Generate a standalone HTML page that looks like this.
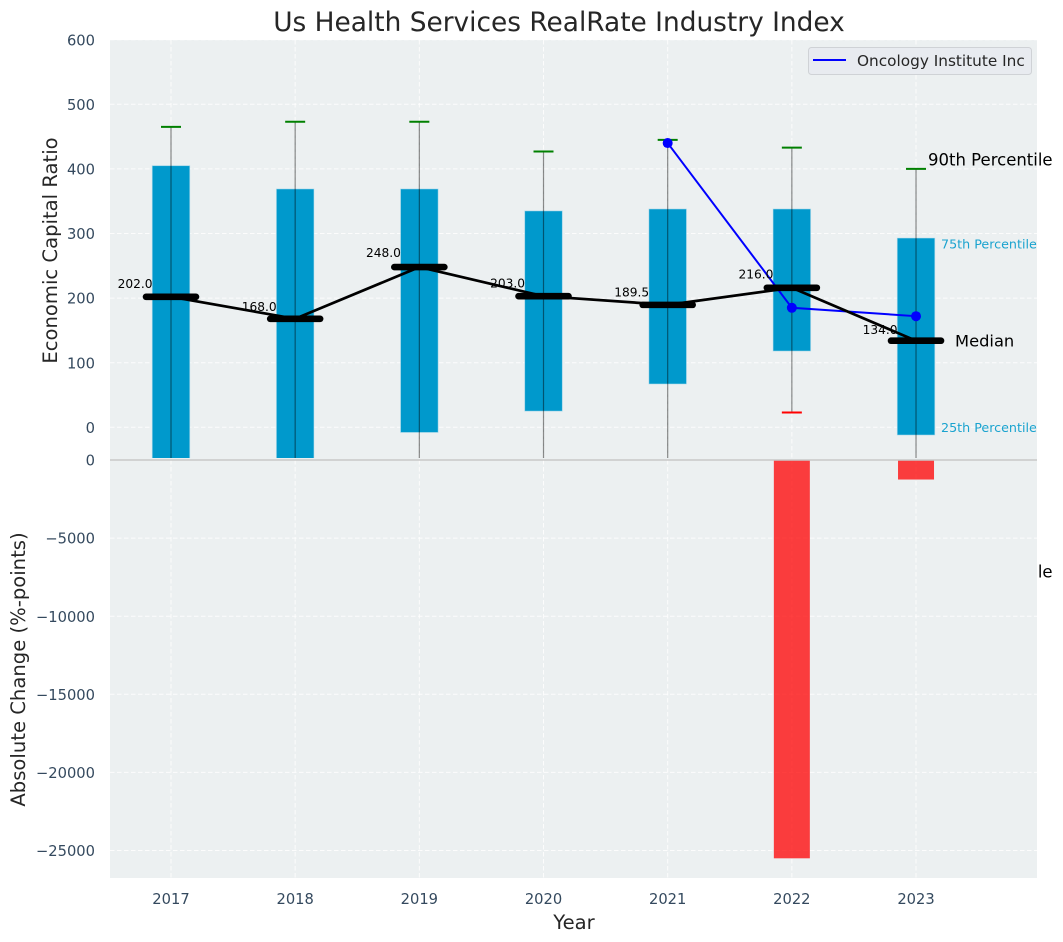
<!DOCTYPE html>
<html lang="en">
<head>
<meta charset="utf-8">
<title>Us Health Services RealRate Industry Index</title>
<style>
html,body{margin:0;padding:0;background:#fff;}
svg{display:block;font-family:"DejaVu Sans","Liberation Sans",sans-serif;}
</style>
</head>
<body>
<svg id="chart" xmlns="http://www.w3.org/2000/svg" width="1063" height="942" viewBox="0 0 1063 942">
  <defs>
    <clipPath id="top-clip"><rect x="110" y="40" width="927" height="418"></rect></clipPath>
    <clipPath id="bottom-clip"><rect x="110" y="460" width="927" height="418"></rect></clipPath>
  </defs>
  <text id="p10-label" font-size="16.5" fill="#000">10th Percentile</text>
  <rect x="110" y="40" width="927" height="418" fill="#ecf0f1"></rect>
  <rect x="110" y="458" width="927" height="420" fill="#ecf0f1"></rect>
  <g id="grid"></g>
  <g id="bottom-marks" clip-path="url(#bottom-clip)"></g>
  <line x1="110" x2="1037" y1="460" y2="460" stroke="#c8c8c8" stroke-width="1.5"></line>
  <g id="top-marks" clip-path="url(#top-clip)"></g>
  <g id="labels"></g>
  <g id="ticks"></g>
  <text x="559" y="31" text-anchor="middle" font-size="26.4" fill="#262626">Us Health Services RealRate Industry Index</text>
  <text transform="translate(57,250.5) rotate(-90)" text-anchor="middle" font-size="19.6" fill="#262626">Economic Capital Ratio</text>
  <text transform="translate(25,669.5) rotate(-90)" text-anchor="middle" font-size="19.6" fill="#262626">Absolute Change (%-points)</text>
  <text x="574" y="929" text-anchor="middle" font-size="19.6" fill="#262626">Year</text>
  <g>
    <rect x="808.5" y="47.5" width="223" height="27" rx="3" fill="#e8ebf0" stroke="#cfd2d6" stroke-width="1"></rect>
    <line x1="813" x2="846" y1="60" y2="60" stroke="#0000ff" stroke-width="2"></line>
    <text x="857" y="66" font-size="15.3" fill="#262626">Oncology Institute Inc</text>
  </g>
</svg>
<script>
const years = [2017, 2018, 2019, 2020, 2021, 2022, 2023];
const p90 = [465, 473, 473, 427, 445, 433, 400];
const p75 = [405, 369, 369, 335, 338, 338, 293];
const medians = [202, 168, 248, 203, 189.5, 216, 134];
const p25 = [-60, -60, -8, 25, 67, 118, -12];
const p10 = [-200, -200, -200, -200, -200, 23, -241];
const companyYears = [2021, 2022, 2023];
const companyValues = [440, 185, 172];
const changeYears = [2022, 2023];
const changeValues = [-25500, -1250];
const topTicks = [0, 100, 200, 300, 400, 500, 600];
const bottomTicks = [0, -5000, -10000, -15000, -20000, -25000];

const NS = 'http://www.w3.org/2000/svg';
function xScale(v) { return 171 + (v - 2017) * 124.17; }
function yTop(v) { return 427.3 - v * 0.646; }
function yBottom(v) { return 460 - v * 0.01562; }
function mk(tag, attrs, parent) {
  const el = document.createElementNS(NS, tag);
  for (const k in attrs) el.setAttribute(k, attrs[k]);
  parent.appendChild(el);
  return el;
}
const grid = document.getElementById('grid');
const topMarks = document.getElementById('top-marks');
const bottomMarks = document.getElementById('bottom-marks');
const labels = document.getElementById('labels');
const ticks = document.getElementById('ticks');
const gridStyle = { stroke: '#ffffff', 'stroke-width': 1, 'stroke-dasharray': '4.5 2.5', opacity: 0.85 };

topTicks.forEach(function (t) {
  const y = yTop(t);
  const line = mk('line', Object.assign({ x1: 110, x2: 1037, y1: y, y2: y }, gridStyle), grid);
  
  
  const label = mk('text', { x: 95, y: y + 5.6, 'text-anchor': 'end', 'font-size': 14.7, fill: '#34495e' }, ticks);
  label.textContent = String(t);
  
  
});
bottomTicks.forEach(function (t) {
  const y = yBottom(t);
  if (t !== 0) {
    const line = mk('line', Object.assign({ x1: 110, x2: 1037, y1: y, y2: y }, gridStyle), grid);
    
    
  }
  const label = mk('text', { x: 95, y: y + 5.6, 'text-anchor': 'end', 'font-size': 14.7, fill: '#34495e' }, ticks);
  label.textContent = String(t).replace('-', '\u2212');
  
  
});
years.forEach(function (yr) {
  const x = xScale(yr);
  const line = mk('line', Object.assign({ x1: x, x2: x, y1: 40, y2: 878 }, gridStyle), grid);
  
  
  const label = mk('text', { x: x, y: 904, 'text-anchor': 'middle', 'font-size': 14.7, fill: '#34495e' }, ticks);
  label.textContent = String(yr);
  
  
});

changeYears.forEach(function (yr, i) {
  const x = xScale(yr);
  const y0 = yBottom(0);
  const y1 = yBottom(changeValues[i]);
  const bar = mk('rect', { x: x - 18, y: Math.min(y0, y1), width: 36, height: Math.abs(y1 - y0), fill: '#ff0000', 'fill-opacity': 0.75 }, bottomMarks);
  
  
});

years.forEach(function (yr, i) {
  const x = xScale(yr);
  const top = yTop(p75[i]);
  const bot = yTop(p25[i]);
  const box = mk('rect', { x: x - 18.8, y: top, width: 37.6, height: bot - top, fill: '#0099cc', stroke: '#b8deec', 'stroke-width': 0.8, 'stroke-opacity': 0.7 }, topMarks);
  
  
});
years.forEach(function (yr, i) {
  const x = xScale(yr);
  const whisker = mk('line', { x1: x, x2: x, y1: yTop(p90[i]), y2: yTop(p10[i]), stroke: '#000', 'stroke-opacity': 0.45, 'stroke-width': 1.2 }, topMarks);
  
  
  const capTop = mk('line', { x1: x - 10, x2: x + 10, y1: yTop(p90[i]), y2: yTop(p90[i]), stroke: '#008000', 'stroke-width': 2 }, topMarks);
  
  
  const capLow = mk('line', { x1: x - 10, x2: x + 10, y1: yTop(p10[i]), y2: yTop(p10[i]), stroke: '#ff0000', 'stroke-width': 2 }, topMarks);
  
  
});

const companyLine = mk('polyline', { points: companyYears.map(function (yr, i) { return xScale(yr) + ',' + yTop(companyValues[i]); }).join(' '), fill: 'none', stroke: '#0000ff', 'stroke-width': 2 }, topMarks);


companyYears.forEach(function (yr, i) {
  const dot = mk('circle', { cx: xScale(yr), cy: yTop(companyValues[i]), r: 5, fill: '#0000ff' }, topMarks);
  
  
});

const medianLine = mk('polyline', { points: years.map(function (yr, i) { return xScale(yr) + ',' + yTop(medians[i]); }).join(' '), fill: 'none', stroke: '#000', 'stroke-width': 2.7 }, topMarks);


years.forEach(function (yr, i) {
  const x = xScale(yr);
  const y = yTop(medians[i]);
  const bar = mk('line', { x1: x - 25, x2: x + 25, y1: y, y2: y, stroke: '#000', 'stroke-width': 6.6, 'stroke-linecap': 'round' }, topMarks);
  
  
  const label = mk('text', { x: x - 18.5, y: yTop(medians[i] * 1.05) - 2.2, 'text-anchor': 'end', 'font-size': 12.2, fill: '#000' }, labels);
  label.textContent = medians[i].toFixed(1);
  
  
});

const last = years.length - 1;
const lastX = xScale(years[last]);
const p90Label = mk('text', { x: lastX + 12, y: yTop(p90[last]) - 3.5, 'font-size': 16.5, fill: '#000' }, labels);
p90Label.textContent = '90th Percentile';


const p75Label = mk('text', { x: lastX + 25, y: yTop(p75[last]) + 10.5, 'font-size': 12.7, fill: '#1aa3cf' }, labels);
p75Label.textContent = '75th Percentile';


const medLabel = mk('text', { x: lastX + 39, y: yTop(medians[last]) + 5.6, 'font-size': 16.3, fill: '#000' }, labels);
medLabel.textContent = 'Median';


const p25Label = mk('text', { x: lastX + 25, y: yTop(p25[last]) - 3.2, 'font-size': 12.7, fill: '#1aa3cf' }, labels);
p25Label.textContent = '25th Percentile';


const p10Label = document.getElementById('p10-label');
p10Label.setAttribute('x', lastX + 12);
p10Label.setAttribute('y', yTop(p10[last]) - 5.5);
</script>
</body>
</html>
